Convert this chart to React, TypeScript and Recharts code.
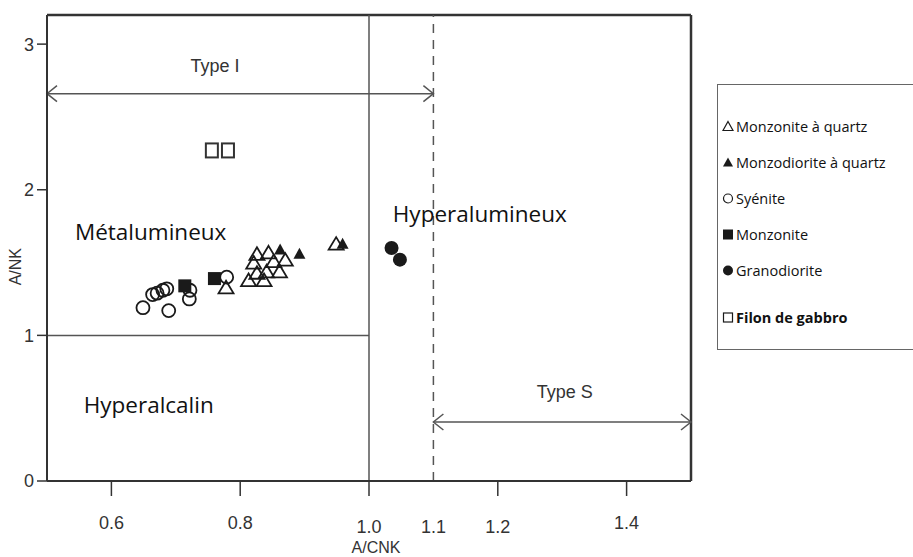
import React from 'react';
import {
  ScatterChart,
  Scatter,
  XAxis,
  YAxis,
  ReferenceLine,
  ReferenceDot,
  Legend,
} from 'recharts';

// A/CNK vs A/NK (Shand diagram)
const xTicks = [0.6, 0.8, 1.0, 1.1, 1.2, 1.4];
const yTicks = [0, 1, 2, 3];

const monzoniteQuartz = [
  { x: 0.826, y: 1.56 }, { x: 0.844, y: 1.57 }, { x: 0.821, y: 1.5 },
  { x: 0.852, y: 1.51 }, { x: 0.87, y: 1.52 }, { x: 0.826, y: 1.43 },
  { x: 0.841, y: 1.44 }, { x: 0.861, y: 1.44 }, { x: 0.813, y: 1.38 },
  { x: 0.837, y: 1.38 }, { x: 0.778, y: 1.33 }, { x: 0.949, y: 1.63 },
];
const monzodioriteQuartz = [
  { x: 0.862, y: 1.59 }, { x: 0.892, y: 1.56 }, { x: 0.959, y: 1.63 },
];
const syenite = [
  { x: 0.649, y: 1.19 }, { x: 0.664, y: 1.28 }, { x: 0.671, y: 1.29 },
  { x: 0.68, y: 1.31 }, { x: 0.686, y: 1.32 }, { x: 0.689, y: 1.17 },
  { x: 0.722, y: 1.31 }, { x: 0.721, y: 1.25 }, { x: 0.779, y: 1.4 },
];
const monzonite = [{ x: 0.714, y: 1.34 }, { x: 0.76, y: 1.39 }];
const granodiorite = [{ x: 1.035, y: 1.6 }, { x: 1.048, y: 1.52 }];
const gabbro = [{ x: 0.756, y: 2.27 }, { x: 0.781, y: 2.27 }];

const regionLabels = [
  { x: 0.661, y: 1.71, text: 'Métalumineux' },
  { x: 1.172, y: 1.83, text: 'Hyperalumineux' },
  { x: 0.658, y: 0.52, text: 'Hyperalcalin' },
];
const typeLabels = [
  { x: 0.761, y: 2.85, text: 'Type I' },
  { x: 1.304, y: 0.61, text: 'Type S' },
];
const typeArrows = [
  { x1: 0.5, x2: 1.1, y: 2.66 },
  { x1: 1.1, x2: 1.5, y: 0.405 },
];

const INK = '#1a1a1a';
const LINE = '#555';
const AXIS_FONT = '"Liberation Sans Narrow", "Liberation Sans", Arial, sans-serif';

const OpenTriangle = ({ cx, cy }: any) => (
  <path d={`M${cx},${cy - 6.5}L${cx + 7.5},${cy + 6}L${cx - 7.5},${cy + 6}Z`} fill="none" stroke={INK} strokeWidth={1.8} />
);
const FilledTriangle = ({ cx, cy }: any) => (
  <path d={`M${cx},${cy - 6}L${cx + 6},${cy + 5}L${cx - 6},${cy + 5}Z`} fill={INK} />
);
const OpenCircle = ({ cx, cy }: any) => (
  <circle cx={cx} cy={cy} r={6.5} fill="none" stroke={INK} strokeWidth={1.8} />
);
const FilledSquare = ({ cx, cy }: any) => (
  <rect x={cx - 6.5} y={cy - 6.5} width={13} height={13} fill={INK} />
);
const FilledCircle = ({ cx, cy }: any) => (
  <circle cx={cx} cy={cy} r={7} fill={INK} />
);
const OpenSquare = ({ cx, cy }: any) => (
  <rect x={cx - 6} y={cy - 7} width={12} height={14} fill="none" stroke="#333" strokeWidth={2} />
);

// smaller glyphs for the legend box
const legendIcons: Record<string, () => React.ReactNode> = {
  openTri: () => <path d="M6,1.5L11,10.5L1,10.5Z" fill="none" stroke={INK} strokeWidth={1.2} />,
  fillTri: () => <path d="M6,1.5L11,10.5L1,10.5Z" fill={INK} />,
  openCircle: () => <circle cx={6} cy={6.5} r={4.5} fill="none" stroke={INK} strokeWidth={1.2} />,
  fillSquare: () => <rect x={1} y={1.5} width={10} height={10} fill={INK} />,
  fillCircle: () => <circle cx={6} cy={6.5} r={5} fill={INK} />,
  openSquare: () => <rect x={1.5} y={2} width={9} height={9} fill="none" stroke={INK} strokeWidth={1.2} />,
};

const series = [
  { name: 'Monzonite à quartz', data: monzoniteQuartz, shape: OpenTriangle, icon: 'openTri', bold: false },
  { name: 'Monzodiorite à quartz', data: monzodioriteQuartz, shape: FilledTriangle, icon: 'fillTri', bold: false },
  { name: 'Syénite', data: syenite, shape: OpenCircle, icon: 'openCircle', bold: false },
  { name: 'Monzonite', data: monzonite, shape: FilledSquare, icon: 'fillSquare', bold: false },
  { name: 'Granodiorite', data: granodiorite, shape: FilledCircle, icon: 'fillCircle', bold: false },
  { name: 'Filon de gabbro', data: gabbro, shape: OpenSquare, icon: 'openSquare', bold: true },
];

const legendTops = [41, 77, 113, 149, 185, 232];

const renderLegend = () => (
  <div style={{ position: 'relative', width: 220, height: 266, border: '1px solid #666', boxSizing: 'border-box', fontFamily: 'Open Sans', fontSize: 14.5, color: '#111' }}>
    {series.map((s, i) => (
      <div key={s.name} style={{ position: 'absolute', left: 4, top: legendTops[i] - 10, height: 20, display: 'flex', alignItems: 'center', whiteSpace: 'nowrap', fontWeight: s.bold ? 700 : 400 }}>
        <svg width={12} height={13} style={{ marginRight: 2 }}>
          {legendIcons[s.icon]()}
        </svg>
        {s.name}
      </div>
    ))}
  </div>
);

const XTick = ({ x, y, payload }: any) => {
  const v = payload.value;
  const low = v >= 0.99 && v <= 1.21;
  return (
    <g>
      {v !== 1.1 && <line x1={x} y1={y} x2={x} y2={y + 15} stroke="#333" strokeWidth={1.5} />}
      <text x={x} y={y + (low ? 46 : 42)} dy="0.35em" textAnchor="middle" fontSize={18} fill="#333" fontFamily={AXIS_FONT}>
        {v.toFixed(1)}
      </text>
    </g>
  );
};

const ArrowShape = ({ x1, y1, x2, y2 }: any) => (
  <g stroke={LINE} strokeWidth={1.5} fill="none">
    <line x1={x1} y1={y1} x2={x2} y2={y2} />
    <polyline points={`${x1 + 10},${y1 - 8} ${x1},${y1} ${x1 + 10},${y1 + 8}`} />
    <polyline points={`${x2 - 10},${y2 - 8} ${x2},${y2} ${x2 - 10},${y2 + 8}`} />
  </g>
);

const XLabel = ({ viewBox }: any) => (
  <text x={viewBox.x + viewBox.width / 2 + 7} y={viewBox.y + 66} dy="0.35em" textAnchor="middle" fontSize={16} fill="#333" fontFamily={AXIS_FONT}>
    A/CNK
  </text>
);

const YLabel = ({ viewBox }: any) => {
  const cx = 15;
  const cy = viewBox.y + viewBox.height * 0.54;
  return (
    <text x={cx} y={cy} dy="0.35em" textAnchor="middle" fontSize={16} fill="#333" fontFamily={AXIS_FONT} transform={`rotate(-90, ${cx}, ${cy})`}>
      A/NK
    </text>
  );
};

const App: React.FC = () => {
  return (
    <div style={{ position: 'absolute', left: 0, top: 0, width: 913, height: 557, overflow: 'hidden', background: '#fff' }}>
      <ScatterChart width={913} height={557} margin={{ top: 15, right: 222, left: 0, bottom: 0 }}>
        <XAxis
          type="number"
          dataKey="x"
          domain={[0.5, 1.5]}
          ticks={xTicks}
          allowDataOverflow
          height={76}
          tickSize={0}
          tickMargin={0}
          tick={<XTick />}
          axisLine={{ stroke: '#333', strokeWidth: 2 }}
          label={<XLabel />}
        />
        <YAxis
          type="number"
          dataKey="y"
          domain={[0, 3.2]}
          ticks={yTicks}
          allowDataOverflow
          width={47}
          tickSize={10}
          tickMargin={3}
          tick={{ fontSize: 18, fill: '#333', fontFamily: AXIS_FONT }}
          tickLine={{ stroke: '#333', strokeWidth: 1.5 }}
          axisLine={{ stroke: '#333', strokeWidth: 2 }}
          label={<YLabel />}
        />
        <ReferenceLine y={3.2} stroke="#333" strokeWidth={2.5} />
        <ReferenceLine x={1.5} stroke="#333" strokeWidth={2.5} />
        <ReferenceLine x={1.0} stroke={LINE} strokeWidth={1.5} />
        <ReferenceLine x={1.1} stroke={LINE} strokeWidth={1.5} strokeDasharray="9 7" />
        <ReferenceLine segment={[{ x: 0.5, y: 1 }, { x: 1.0, y: 1 }]} stroke={LINE} strokeWidth={1.5} />
        {typeArrows.map((a, i) => (
          <ReferenceLine key={i} segment={[{ x: a.x1, y: a.y }, { x: a.x2, y: a.y }]} shape={<ArrowShape />} />
        ))}
        {typeLabels.map((t) => (
          <ReferenceDot
            key={t.text}
            x={t.x}
            y={t.y}
            r={0}
            shape={(p: any) => (
              <text x={p.cx} y={p.cy} dy="0.35em" textAnchor="middle" fontSize={18} fill="#333" fontFamily={AXIS_FONT}>
                {t.text}
              </text>
            )}
          />
        ))}
        {regionLabels.map((t) => (
          <ReferenceDot
            key={t.text}
            x={t.x}
            y={t.y}
            r={0}
            shape={(p: any) => (
              <text x={p.cx} y={p.cy} dy="0.35em" textAnchor="middle" fontSize={22.5} fill="#111" fontFamily="Open Sans">
                {t.text}
              </text>
            )}
          />
        ))}
        {series.map((s) => (
          <Scatter key={s.name} name={s.name} data={s.data} shape={s.shape} isAnimationActive={false} />
        ))}
        <Legend
          content={renderLegend}
          layout="horizontal"
          align="center"
          verticalAlign="middle"
          wrapperStyle={{ position: 'absolute', left: 717, top: 84, width: 220, height: 266 }}
        />
      </ScatterChart>
    </div>
  );
};

export default App;
